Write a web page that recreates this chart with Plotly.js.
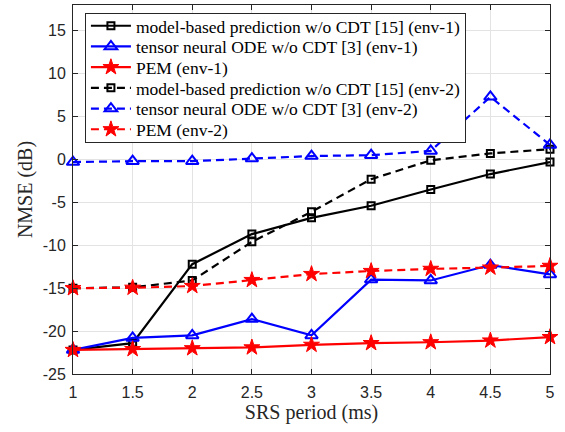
<!DOCTYPE html>
<html>
<head>
<meta charset="utf-8">
<script src="https://cdn.plot.ly/plotly-3.0.1.min.js"></script>
<style>html,body{margin:0;padding:0;background:#fff;}#chart{width:565px;height:432px;}</style>
</head>
<body>
<div id="chart"></div>
<script>
const srsPeriod = [1, 1.5, 2, 2.5, 3, 3.5, 4, 4.5, 5];
const modelEnv1 = [-22.2, -21.4, -12.2, -8.7, -6.8, -5.4, -3.5, -1.7, -0.3];
const tnodeEnv1 = [-22.2, -20.8, -20.5, -18.6, -20.5, -14.0, -14.1, -12.3, -13.4];
const pemEnv1   = [-22.2, -22.1, -22.0, -21.9, -21.6, -21.4, -21.3, -21.1, -20.7];
const modelEnv2 = [-15.0, -14.9, -14.1, -9.6, -6.1, -2.3, -0.1, 0.7, 1.2];
const tnodeEnv2 = [-0.3, -0.2, -0.2, 0.1, 0.4, 0.5, 1.0, 7.3, 1.7];
const pemEnv2   = [-15.0, -14.95, -14.75, -14.05, -13.35, -13.0, -12.75, -12.6, -12.4];
const seriesNames = [
  'model-based prediction w/o CDT [15] (env-1)',
  'tensor neural ODE w/o CDT [3] (env-1)',
  'PEM (env-1)',
  'model-based prediction w/o CDT [15] (env-2)',
  'tensor neural ODE w/o CDT [3] (env-2)',
  'PEM (env-2)'
];
const yTicks = [-25, -20, -15, -10, -5, 0, 5, 10, 15];
const xTicks = [1, 1.5, 2, 2.5, 3, 3.5, 4, 4.5, 5];

const SERIF = 'Liberation Serif, Times New Roman, serif';
const SANS = 'Liberation Sans, Arial, sans-serif';
const dashPat = '8px,5px';
function tr(y, name, color, dash, symbol, size, lw) {
  return {
    x: srsPeriod, y: y, name: name, type: 'scatter', mode: 'lines+markers',
    cliponaxis: false,
    line: {color: color, width: 2.2, dash: dash},
    marker: {symbol: symbol, size: size, color: color, line: {color: color, width: lw}}
  };
}
const data = [
  tr(modelEnv1, seriesNames[0], '#000000', 'solid', 'square-open', 7, 2),
  tr(tnodeEnv1, seriesNames[1], '#0000ff', 'solid', 'triangle-up-open', 11, 2),
  tr(pemEnv1,   seriesNames[2], '#ff0000', 'solid', 'star', 12, 1),
  tr(modelEnv2, seriesNames[3], '#000000', dashPat, 'square-open', 7, 2),
  tr(tnodeEnv2, seriesNames[4], '#0000ff', dashPat, 'triangle-up-open', 11, 2),
  tr(pemEnv2,   seriesNames[5], '#ff0000', dashPat, 'star', 12, 1)
];
const axisCommon = {
  showline: true, linecolor: '#262626', linewidth: 1, mirror: 'ticks',
  ticks: 'inside', ticklen: 5, tickcolor: '#262626',
  showgrid: true, gridcolor: '#e3e3e3', gridwidth: 1, zeroline: false,
  tickfont: {family: SANS, size: 16, color: '#262626'}
};
const layout = {
  width: 565, height: 432,
  margin: {l: 73, r: 15, t: 5, b: 58},
  paper_bgcolor: '#ffffff', plot_bgcolor: '#ffffff',
  showlegend: true,
  xaxis: Object.assign({}, axisCommon, {
    range: [1, 5], tickvals: xTicks, ticktext: xTicks.map(String),
    ticklabelstandoff: 4,
    title: {text: 'SRS period (ms)', font: {family: SERIF, size: 20, color: '#262626'}, standoff: 4}
  }),
  yaxis: Object.assign({}, axisCommon, {
    range: [-25, 18], tickvals: yTicks, ticktext: yTicks.map(String),
    ticklabelstandoff: 3,
    title: {text: 'NMSE (dB)', font: {family: SERIF, size: 20, color: '#262626'}, standoff: 4}
  }),
  legend: {
    x: 0.025, y: 0.979, xanchor: 'left', yanchor: 'top',
    bgcolor: '#ffffff', bordercolor: '#262626', borderwidth: 1,
    font: {family: SERIF, size: 17.5, color: '#000000'},
    tracegroupgap: 0, itemwidth: 40
  }
};
// Tighten legend row pitch to match the reference (MATLAB-style compact legend)
const ROW_FIRST = 13, ROW_PITCH = 20.7, LEGEND_H = 129;
function compactLegend(gd) {
  const traces = gd.querySelectorAll('.legend .traces');
  traces.forEach(function (t, i) {
    const m = /translate\(\s*([-\d.e]+)[ ,]+([-\d.e]+)\s*\)/.exec(t.getAttribute('transform') || '');
    const tx = m ? m[1] : 0;
    t.setAttribute('transform', 'translate(' + tx + ',' + (ROW_FIRST + i * ROW_PITCH) + ')');
  });
  const bg = gd.querySelector('.legend rect.bg');
  if (bg) bg.setAttribute('height', LEGEND_H);
}
Plotly.newPlot('chart', data, layout, {displayModeBar: false, staticPlot: true}).then(compactLegend);
</script>
</body>
</html>
